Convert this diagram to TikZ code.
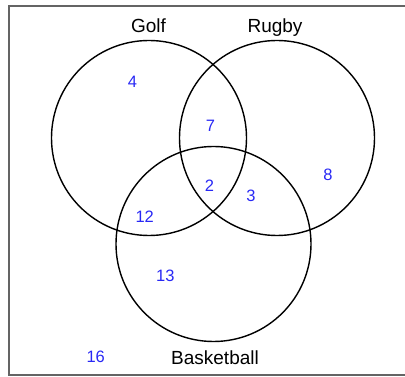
\documentclass[tikz,border=0pt]{standalone}
\usepackage{fontspec}
\setmainfont{Liberation Sans}
\definecolor{numblue}{RGB}{40,40,245}
\definecolor{framegray}{RGB}{100,100,100}
\begin{document}
\begin{tikzpicture}[x=1pt,y=-1pt,
  setcircle/.style={draw=black,line width=1.4pt},
  setlabel/.style={anchor=base,inner sep=0pt,font=\fontsize{19}{22}\selectfont},
  count/.style={anchor=base,inner sep=0pt,text=numblue,font=\fontsize{16.5}{19}\selectfont}]
\useasboundingbox (0,0) rectangle (405,377);
\clip (0,0) rectangle (405,377);
\draw[framegray,line width=1.6pt] (9,6) rectangle (420,375);
\draw[setcircle] (149,138) circle (97.5);
\draw[setcircle] (277,138) circle (97.5);
\draw[setcircle] (213.5,244) circle (97.5);
\node[setlabel] (golf) at (148.5,32.3) {Golf};
\node[setlabel] (rugby) at (275,32.3) {Rugby};
\node[setlabel] (basket) at (215,365) {Basketball};
\node[count] (n4) at (132.5,88) {4};
\node[count] (n7) at (210.5,132) {7};
\node[count] (n2) at (209.5,192) {2};
\node[count] (n3) at (251,201.7) {3};
\node[count] (n12) at (144.7,222.7) {12};
\node[count] (n13) at (165.3,281.7) {13};
\node[count] (n8) at (328,180.7) {8};
\node[count] (n16) at (95.7,362.3) {16};
\end{tikzpicture}
\end{document}
